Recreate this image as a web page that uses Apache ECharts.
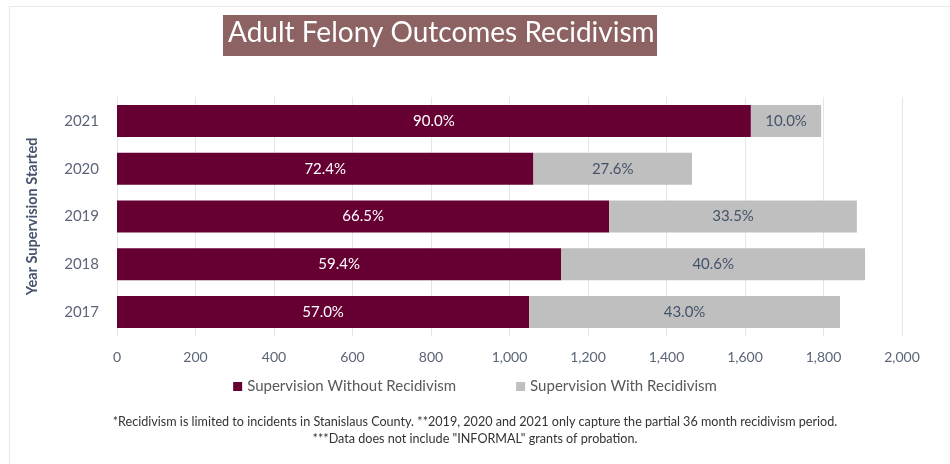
<!DOCTYPE html>
<html>
<head>
<meta charset="utf-8">
<script src="https://cdn.jsdelivr.net/npm/echarts@6/dist/echarts.min.js"></script>
<style>
  html, body { margin: 0; padding: 0; background: #ffffff; }
  #chart { width: 950px; height: 464px; }
</style>
</head>
<body>
<div id="chart"></div>
<script>
// Year supervision started (bottom to top on the category axis)
const years = ['2017', '2018', '2019', '2020', '2021'];
// Number of supervision grants per year
const withoutRecidivism = [1050, 1132, 1254, 1061, 1615];
const withRecidivism = [792, 774, 631, 404, 179];
const xTicks = { min: 0, max: 2000, interval: 200 };

const seriesNames = ['Supervision Without Recidivism', 'Supervision With Recidivism'];
const titleText = 'Adult Felony Outcomes Recidivism';
const yAxisTitle = 'Year Supervision Started';
const footnoteLines = [
  '*Recidivism is limited to incidents in Stanislaus County. **2019, 2020 and 2021 only capture the partial 36 month recidivism period.',
  '***Data does not include "INFORMAL" grants of probation.'
];

const totals = years.map((_, i) => withoutRecidivism[i] + withRecidivism[i]);
const pct = (v, i) => (v / totals[i] * 100).toFixed(1) + '%';

const FONT = 'Lato, "Open Sans", sans-serif';
const chart = echarts.init(document.getElementById('chart'), null, { renderer: 'canvas' });

chart.setOption({
  backgroundColor: '#ffffff',
  animation: false,
  textStyle: { fontFamily: FONT },
  graphic: [
    {
      type: 'rect', left: 7, top: 4, silent: true,
      shape: { width: 941, height: 470 },
      style: { fill: 'none', stroke: '#e8e8e8', lineWidth: 1 }
    },
    {
      type: 'rect', left: 223, top: 15,
      shape: { width: 434, height: 41 },
      style: { fill: '#8c6262' }
    },
    {
      type: 'text', left: 228, top: 19,
      style: { text: titleText, fill: '#ffffff', font: '28px ' + FONT }
    },
    {
      type: 'text', top: 413, left: 'center',
      style: {
        text: footnoteLines.join('\n'), fill: '#333333', font: '12.6px ' + FONT,
        textAlign: 'center', lineHeight: 17
      }
    }
  ],
  legend: {
    bottom: 65, left: 'center',
    itemWidth: 9, itemHeight: 9, itemGap: 60, icon: 'rect',
    textStyle: { color: '#595959', fontSize: 15, fontFamily: FONT },
    data: seriesNames
  },
  grid: { left: 117, right: 48, top: 97, bottom: 128, containLabel: false },
  xAxis: {
    type: 'value', min: xTicks.min, max: xTicks.max, interval: xTicks.interval,
    axisLine: { show: false }, axisTick: { show: false },
    splitLine: { show: true, lineStyle: { color: '#e3e6ee', width: 1 } },
    axisLabel: {
      color: '#5b6577', fontSize: 14, margin: 14, fontFamily: FONT,
      formatter: v => v.toLocaleString('en-US')
    }
  },
  yAxis: {
    type: 'category', data: years,
    name: yAxisTitle, nameLocation: 'middle', nameGap: 77, nameRotate: 90,
    nameTextStyle: { color: '#44546a', fontSize: 14.5, fontWeight: 'bold', fontFamily: FONT },
    axisLine: { show: false }, axisTick: { show: false },
    axisLabel: { color: '#5b6577', fontSize: 15, margin: 18, fontFamily: FONT }
  },
  series: [
    {
      name: seriesNames[0], type: 'bar', stack: 'total', barCategoryGap: '33%',
      data: withoutRecidivism,
      itemStyle: { color: '#660033' },
      label: {
        show: true, position: 'inside', color: '#ffffff', fontSize: 15, fontFamily: FONT,
        formatter: p => pct(p.value, p.dataIndex)
      }
    },
    {
      name: seriesNames[1], type: 'bar', stack: 'total', barCategoryGap: '33%',
      data: withRecidivism,
      itemStyle: { color: '#bfbfbf' },
      label: {
        show: true, position: 'inside', color: '#44546a', fontSize: 15, fontFamily: FONT,
        formatter: p => pct(p.value, p.dataIndex)
      }
    }
  ]
});
</script>
</body>
</html>
